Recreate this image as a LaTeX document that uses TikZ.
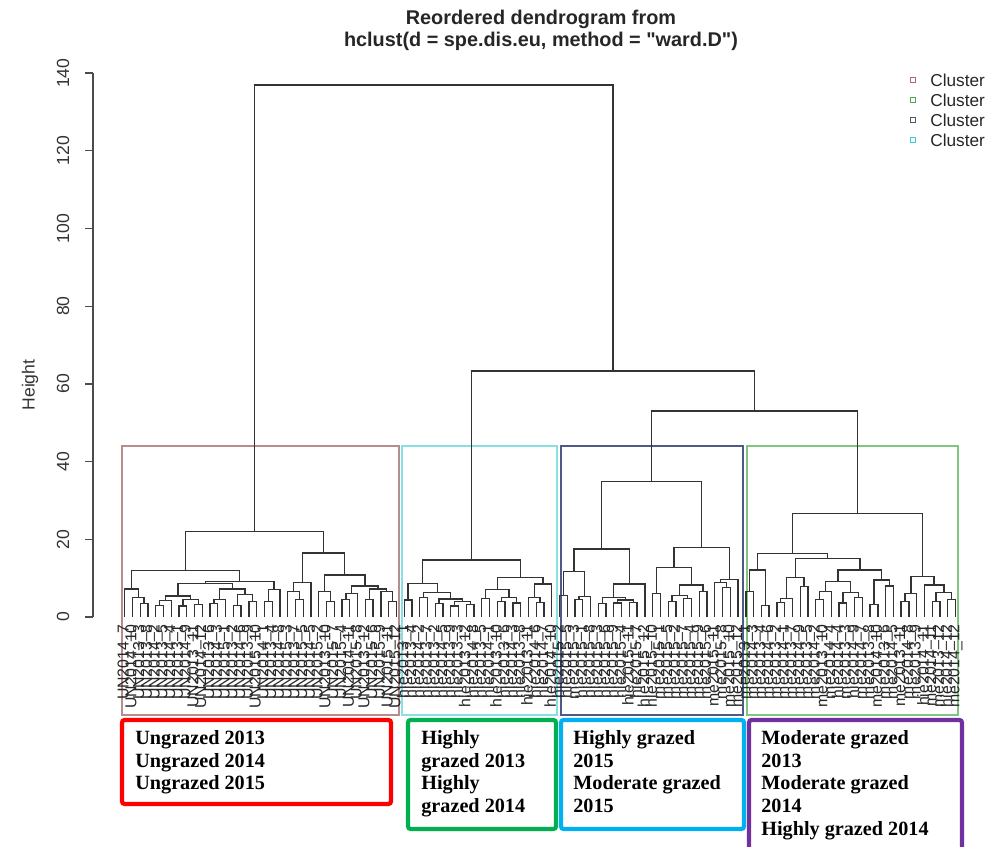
\documentclass[tikz,border=0pt]{standalone}
\usepackage{fontspec}
\setmainfont{Liberation Sans}[Ligatures=TeXOff]
\newfontfamily\boxfont{Liberation Serif}
\usetikzlibrary{calc}
\definecolor{dline}{HTML}{333333}
\definecolor{cred}{HTML}{B98C8C}
\definecolor{ccyan}{HTML}{86E0E6}
\definecolor{cnavy}{HTML}{4F5A86}
\definecolor{cgreen}{HTML}{82C482}
\definecolor{lred}{HTML}{B06A6A}
\definecolor{lgreen}{HTML}{4FA84F}
\definecolor{lnavy}{HTML}{56566A}
\definecolor{lcyan}{HTML}{3CC8D8}
\definecolor{bred}{HTML}{FF0000}
\definecolor{bgreen}{HTML}{00B050}
\definecolor{bblue}{HTML}{00B0F0}
\definecolor{bpurple}{HTML}{7030A0}
\tikzset{
 dendro/.style={draw=dline, line width=0.75pt},
 clubox/.style={line width=0.7pt},
 leaflab/.style={rotate=90, anchor=east, inner sep=0pt, font=\fontsize{9}{9}\selectfont, text=black!85},
 grpbox/.style={line width=2.4pt, rounded corners=1.5pt},
 grptext/.style={anchor=north west, inner sep=0pt, align=left, font=\boxfont\bfseries\fontsize{11.5}{12.9}\selectfont},
 ticklab/.style={rotate=90, inner sep=0pt, font=\fontsize{10}{10}\selectfont, text=black!80},
 legtext/.style={anchor=west, inner sep=0pt, font=\fontsize{9.8}{10}\selectfont, text=black!85},
 legsq/.style={line width=0.6pt, minimum size=0.11cm, inner sep=0pt},
 titlefont/.style={inner sep=0pt, font=\bfseries\fontsize{11.3}{13}\selectfont, text=black!85},
}
\newcommand\mrg[4]{%
  \path ($(#2)!0.5!(#3)$) coordinate (c#1) (0,#4) coordinate (y#1);
  \coordinate (#1) at (c#1 |- y#1);
  \draw[dendro] (#2) |- (#1) -| (#3);}
\begin{document}
\begin{tikzpicture}[x=0.02cm, y=-0.02cm]
\useasboundingbox (0,0) rectangle (992,847);
% title
\node[titlefont] (title1) at (541,19) {Reordered dendrogram from};
\node[titlefont] (title2) at (541,41) {hclust(d = spe.dis.eu, method = "ward.D")};
% legend
\node[legsq, draw=lred]   (sq1) at (913,80)  {};
\node[legsq, draw=lgreen] (sq2) at (913,100) {};
\node[legsq, draw=lnavy]  (sq3) at (913,120) {};
\node[legsq, draw=lcyan]  (sq4) at (913,140) {};
\node[legtext] (lg1) at (930,80)  {Cluster};
\node[legtext] (lg2) at (930,100) {Cluster};
\node[legtext] (lg3) at (930,120) {Cluster};
\node[legtext] (lg4) at (930,140) {Cluster};
% y label
\node[rotate=90, inner sep=0pt, font=\fontsize{10}{10}\selectfont, text=black!80] (ylab) at (30,385) {Height};
% cluster rectangles
\draw[clubox, cred]   (122,446) rectangle (399,715);
\draw[clubox, ccyan]  (402,446) rectangle (557,715);
\draw[clubox, cnavy]  (561,446) rectangle (743,715);
\draw[clubox, cgreen] (747,446) rectangle (958,715);
\begin{scope}[shift={(0,617)}, y=0.07772cm]
 % axis
 \draw[dendro, draw=black!70] (93,0) -- (93,140);
 \foreach \v in {0,20,...,140}{
   \draw[dendro, draw=black!70] (93,\v) -- (85,\v);
   \node[ticklab] (tk\v) at (63,\v) {\v};
 }
 % leaves
 \foreach \i in {0,...,107} \coordinate (L\i) at ({124.64+7.765*\i},0);
 % red cluster
 \mrg{a1}{L2}{L3}{3.5}
 \mrg{a2}{L1}{a1}{5.1}
 \mrg{rA}{L0}{a2}{7.2}
 \mrg{q1}{L4}{L5}{3.0}
 \mrg{q2}{q1}{L6}{4.2}
 \mrg{q3}{L7}{L8}{2.8}
 \mrg{q4}{L9}{L10}{3.3}
 \mrg{q5}{q3}{q4}{4.5}
 \mrg{qL}{q2}{q5}{5.4}
 \mrg{r1}{L11}{L12}{3.5}
 \mrg{r2}{r1}{L13}{4.5}
 \mrg{r3}{L14}{L15}{3.0}
 \mrg{r4}{L16}{L17}{4.0}
 \mrg{r5}{r3}{r4}{5.8}
 \mrg{qR}{r2}{r5}{7.2}
 \mrg{rQ}{qL}{qR}{8.6}
 \mrg{s1}{L18}{L19}{4.0}
 \mrg{rR}{s1}{L20}{7.0}
 \mrg{rP}{rQ}{rR}{9.2}
 \mrg{RL}{rA}{rP}{12.0}
 \mrg{t1}{L22}{L23}{4.5}
 \mrg{t2}{L21}{t1}{6.5}
 \mrg{RRL}{t2}{L24}{8.8}
 \mrg{u1}{L26}{L27}{4.0}
 \mrg{RRa}{L25}{u1}{6.6}
 \mrg{u2}{L28}{L29}{4.5}
 \mrg{RRx}{u2}{L30}{6.0}
 \mrg{v1}{L31}{L32}{4.5}
 \mrg{v2}{L34}{L35}{4.0}
 \mrg{v3}{L33}{v2}{6.5}
 \mrg{RRy}{v1}{v3}{7.2}
 \mrg{RRb}{RRx}{RRy}{8.0}
 \mrg{RRR}{RRa}{RRb}{10.8}
 \mrg{RR}{RRL}{RRR}{16.5}
 \mrg{RED}{RL}{RR}{22}
 % cyan cluster
 \mrg{k0}{L36}{L37}{4.4}
 \mrg{k1}{L38}{L39}{5.1}
 \mrg{k2a}{L40}{L41}{3.5}
 \mrg{k2b}{L42}{L43}{2.8}
 \mrg{k2c}{L44}{L45}{3.2}
 \mrg{k2d}{k2b}{k2c}{4.0}
 \mrg{k2}{k2a}{k2d}{4.6}
 \mrg{CL2}{k1}{k2}{6.3}
 \mrg{CL}{k0}{CL2}{8.7}
 \mrg{d1}{L46}{L47}{4.8}
 \mrg{d2}{L48}{L49}{4.0}
 \mrg{d3}{L50}{L51}{3.6}
 \mrg{d4}{d2}{d3}{5.1}
 \mrg{CR1}{d1}{d4}{7.1}
 \mrg{d5}{L53}{L54}{3.8}
 \mrg{d6}{L52}{d5}{5.1}
 \mrg{CR2}{d6}{L55}{8.5}
 \mrg{CR}{CR1}{CR2}{10.1}
 \mrg{CYAN}{CL}{CR}{14.7}
 % navy cluster
 \mrg{n1}{L56}{L57}{5.5}
 \mrg{n2}{L58}{L59}{4.5}
 \mrg{n3}{n2}{L60}{5.3}
 \mrg{NLL}{n1}{n3}{11.7}
 \mrg{n4}{L61}{L62}{3.5}
 \mrg{n5}{L63}{L64}{3.6}
 \mrg{n6}{L65}{L66}{3.8}
 \mrg{n7}{n5}{n6}{4.4}
 \mrg{n8}{n4}{n7}{5.1}
 \mrg{NLR}{n8}{L67}{8.5}
 \mrg{NL}{NLL}{NLR}{17.5}
 \mrg{m1}{L68}{L69}{6.1}
 \mrg{m2}{L70}{L71}{4.0}
 \mrg{m3}{L72}{L73}{4.8}
 \mrg{m4}{m2}{m3}{5.5}
 \mrg{m5}{L74}{L75}{6.5}
 \mrg{m6}{m4}{m5}{8.2}
 \mrg{NRL}{m1}{m6}{12.8}
 \mrg{m7}{L77}{L78}{7.6}
 \mrg{m8}{L76}{m7}{8.8}
 \mrg{NRR}{m8}{L79}{9.7}
 \mrg{NR}{NRL}{NRR}{17.9}
 \mrg{NAVY}{NL}{NR}{34.8}
 % green cluster
 \mrg{g1}{L80}{L81}{6.5}
 \mrg{g2}{L82}{L83}{3.0}
 \mrg{GLL}{g1}{g2}{12.1}
 \mrg{g3}{L84}{L85}{3.8}
 \mrg{g4}{g3}{L86}{4.8}
 \mrg{g5}{L87}{L88}{7.8}
 \mrg{GLRa}{g4}{g5}{10.2}
 \mrg{g6}{L89}{L90}{4.5}
 \mrg{g7}{g6}{L91}{6.5}
 \mrg{g8}{L92}{L93}{3.6}
 \mrg{g9}{L94}{L95}{5.0}
 \mrg{g10}{g8}{g9}{6.3}
 \mrg{G3}{g7}{g10}{9.1}
 \mrg{g11}{L96}{L97}{3.3}
 \mrg{g12}{L98}{L99}{8.0}
 \mrg{G4}{g11}{g12}{9.5}
 \mrg{GLRb}{G3}{G4}{12.1}
 \mrg{GLR}{GLRa}{GLRb}{15.1}
 \mrg{GL}{GLL}{GLR}{16.4}
 \mrg{g13}{L100}{L101}{4.0}
 \mrg{g14}{g13}{L102}{6.1}
 \mrg{g15}{L104}{L105}{4.0}
 \mrg{g16}{L106}{L107}{4.5}
 \mrg{g17}{g15}{g16}{6.3}
 \mrg{g18}{L103}{g17}{8.2}
 \mrg{GR}{g14}{g18}{10.4}
 \mrg{GREEN}{GL}{GR}{26.7}
 % upper merges
 \mrg{M53}{NAVY}{GREEN}{53.0}
 \mrg{M63}{CYAN}{M53}{63.3}
 \mrg{TOP}{RED}{M63}{136.9}
 % leaf labels
 \foreach \lab [count=\i from 0] in {UN2014\_7, UN2014\_10, UN2013\_3, UN2013\_8, UN2014\_2, UN2013\_5, UN2014\_4, UN2013\_1, UN2014\_9, UN2013\_11, UN2014\_12, UN2013\_6, UN2014\_3, UN2015\_1, UN2013\_2, UN2014\_6, UN2013\_9, UN2015\_10, UN2014\_1, UN2013\_4, UN2014\_8, UN2015\_3, UN2013\_7, UN2015\_5, UN2014\_5, UN2015\_2, UN2013\_10, UN2015\_7, UN2015\_4, UN2014\_11, UN2015\_8, UN2013\_12, UN2015\_6, UN2015\_9, UN2015\_11, UN2015\_12,
 hie2013\_1, hie2013\_4, hie2014\_2, hie2013\_7, hie2013\_2, hie2014\_5, hie2013\_9, hie2013\_3, hie2013\_12, hie2014\_8, hie2013\_5, hie2014\_1, hie2013\_10, hie2013\_6, hie2014\_3, hie2013\_8, hie2013\_11, hie2014\_6, hie2014\_7, hie2014\_10,
 hie2015\_2, hie2015\_5, me2015\_3, hie2015\_1, hie2015\_8, hie2015\_3, hie2015\_6, hie2015\_9, hie2015\_4, hie2015\_11, hie2015\_7, hie2015\_12, hie2015\_10, me2015\_1, me2015\_5, me2015\_2, me2015\_7, me2015\_4, me2015\_9, me2015\_6, me2015\_11, me2015\_8, me2015\_10, me2015\_12,
 me2013\_1, me2014\_3, me2013\_4, me2014\_6, me2013\_2, me2014\_1, me2013\_7, me2014\_9, me2013\_5, me2014\_2, me2013\_10, me2014\_4, hie2014\_4, me2013\_3, hie2014\_9, me2014\_7, me2013\_8, me2014\_10, me2013\_6, me2014\_5, me2013\_11, me2014\_8, me2013\_9, hie2014\_11, me2014\_11, me2013\_12, hie2014\_12, me2014\_12}
   \node[leaflab] (lab\i) at ($(L\i)+(0,-1.8)$) {\lab};
\end{scope}
% group boxes
\draw[grpbox, bred]    (122,720) rectangle (391,804);
\draw[grpbox, bgreen]  (408,720) rectangle (556,829);
\draw[grpbox, bblue]   (561,720) rectangle (744,829);
\draw[grpbox, bpurple] (749,720) rectangle (962,870);
\node[grptext] (gt1) at (135,730) {Ungrazed 2013\\Ungrazed 2014\\Ungrazed 2015};
\node[grptext] (gt2) at (421,730) {Highly\\grazed 2013\\Highly\\grazed 2014};
\node[grptext] (gt3) at (573,730) {Highly grazed\\2015\\Moderate grazed\\2015};
\node[grptext] (gt4) at (761,730) {Moderate grazed\\2013\\Moderate grazed\\2014\\Highly grazed 2014};
\end{tikzpicture}
\end{document}
